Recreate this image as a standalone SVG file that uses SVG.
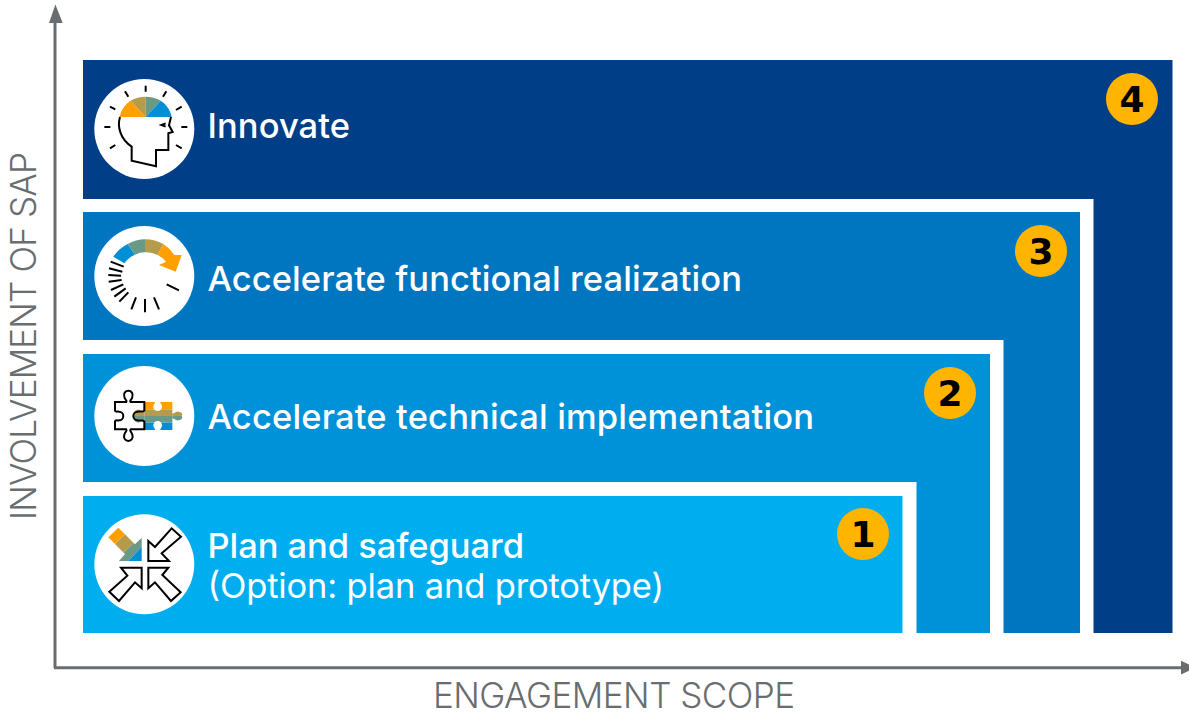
<svg xmlns="http://www.w3.org/2000/svg" width="1189" height="714" viewBox="0 0 1189 714">
<style>
.lbl{font-family:Inter,"Liberation Sans",sans-serif;font-size:34.500px;font-weight:550;fill:#fff}
.sub{font-weight:400}
.ax{font-family:Inter,"Liberation Sans",sans-serif;font-size:35px;font-weight:300;fill:#6a6d70}
.num{font-family:"DejaVu Sans",sans-serif;font-size:36px;font-weight:700;fill:#000;text-anchor:middle}
.badge{fill:#ffb500}
.disc{fill:#fff}
.ln{fill:none;stroke:#000;stroke-width:6}
.wh{fill:#fff;stroke:#000;stroke-width:6;stroke-linejoin:miter}
.o{fill:#ffa000}.y{fill:#b59b4a}.g{fill:#6a9a85}.b{fill:#008fd5}
.axl{stroke:#6a6d70;stroke-width:3;fill:none}
.axh{fill:#6a6d70}
</style>
<g id="connectors">
<path class="axl" d="M55 668V20M54 667.7H1183"/>
<path class="axh" d="M55.4 4.5L62.7 23H49ZM1181 660.7L1196 667.7L1181 674.5Z"/>
</g>
<text class="ax" transform="translate(36 520) rotate(-90)" textLength="368" lengthAdjust="spacing">INVOLVEMENT OF SAP</text>
<text class="ax" x="433" y="708" textLength="362" lengthAdjust="spacing">ENGAGEMENT SCOPE</text>

<g id="node-4">
<rect x="83" y="60" width="1089.500" height="573" fill="#003f88"/>
<path d="M83 199H1093.500V633H83Z" fill="#fff"/>
<circle class="disc" cx="144.300" cy="129" r="50"/>
<g transform="translate(85 70) scale(.33333)">
<path class="o" d="M182 141H104C108 120 120 103 137 92Z"/>
<path class="y" d="M182 141L137 92C150 84 166 80 182 80Z"/>
<path class="g" d="M182 141V80C198 80 214 84 227 92Z"/>
<path class="b" d="M182 141L227 92C244 103 256 120 260 141Z"/>
<path class="ln" d="M105 141C96 170 106 208 140 230V272L213 289V240H250V190L263 186L252 166L258 141"/>
<path class="ln" d="M242 160L229 165L242 170"/>
<path class="ln" d="M182 47V65M120 64L130 80M244 64L234 80M75 110L91 118M290 110L273 120M58 171H76M289 171H307M75 235L91 225M290 235L273 225"/>
</g>
<text class="lbl" x="207.500" y="138" textLength="142.500" lengthAdjust="spacing">Innovate</text>
<circle class="badge" cx="1132" cy="99" r="26"/>
<text class="num" x="1132" y="112">4</text>
</g>

<g id="node-3">
<rect x="83" y="212" width="997" height="421" fill="#0076c0"/>
<path d="M83 340H1003.500V633H83Z" fill="#fff"/>
<circle class="disc" cx="144.300" cy="276" r="50"/>
<g transform="translate(85 220) scale(.33333)">
<path class="b" d="M85 110A110 110 0 0 1 128 72L150 104A72 72 0 0 0 118 130Z"/>
<path class="g" d="M128 72A110 110 0 0 1 180 58V97A72 72 0 0 0 150 104Z"/>
<path class="y" d="M180 58A110 110 0 0 1 235 72L218 105A72 72 0 0 0 180 97Z"/>
<path class="o" d="M235 72A110 110 0 0 1 268 105L290 105L272 155L222 135L243 125A72 72 0 0 0 218 105Z"/>
<path class="ln" d="M245 193L282 211M207 232L222 268M180 237V277M153 232L139 268M130 217L103 245M122 205L88 230M115 193L78 210M110 180L71 185M108 167L70 165M112 155L72 145M116 140L77 125"/>
</g>
<text class="lbl" x="207.500" y="291" textLength="534.500" lengthAdjust="spacing">Accelerate functional realization</text>
<circle class="badge" cx="1041" cy="251" r="26"/>
<text class="num" x="1041" y="264">3</text>
</g>

<g id="node-2">
<rect x="83" y="354" width="907" height="279" fill="#0092d8"/>
<path d="M83 482H916.500V633H83Z" fill="#fff"/>
<circle class="disc" cx="144.300" cy="416" r="50"/>
<g transform="translate(85 360) scale(.33333)">
<rect class="o" x="178" y="126" width="84" height="22"/>
<rect class="y" x="178" y="148" width="84" height="20"/>
<rect class="g" x="178" y="168" width="84" height="20"/>
<rect class="b" x="178" y="188" width="84" height="22"/>
<circle class="disc" cx="218" cy="140" r="13"/>
<rect class="disc" x="210" y="124" width="16" height="14"/>
<circle class="disc" cx="218" cy="196" r="13"/>
<rect class="disc" x="210" y="198" width="16" height="14"/>
<path class="y" d="M262 160H268A11 8 0 0 1 290 168H262Z"/>
<path class="g" d="M262 168H290A11 8 0 0 1 268 176H262Z"/>
<path class="y" d="M178 156H170A11 12 0 0 0 148 168H178Z"/>
<path class="g" d="M178 180H170A11 12 0 0 1 148 168H178Z"/>
<path class="ln" d="M90 126H124C128 121 118 118 118 110A13 13 0 1 1 142 110C142 118 132 121 137 126H178V152C172 158 164 152 158 155A13 13 0 0 0 158 181C164 184 172 178 178 184V208H137C132 213 142 217 142 225A13 13 0 1 1 118 225C118 217 128 213 124 208H90V184C94 178 98 183 102 181A13 13 0 0 0 102 155C98 153 94 158 90 152Z"/>
</g>
<text class="lbl" x="207.500" y="429" textLength="606.500" lengthAdjust="spacing">Accelerate technical implementation</text>
<circle class="badge" cx="950" cy="393" r="26"/>
<text class="num" x="950" y="406">2</text>
</g>

<g id="node-1">
<rect x="83" y="496" width="819.500" height="137" fill="#00aeef"/>
<circle class="disc" cx="144.300" cy="564.300" r="50"/>
<g transform="translate(85 505) scale(.33333)">
<path class="o" d="M70 97L100 68L120 88L90 117Z"/>
<path class="y" d="M90 117L120 88L146 114L116 143Z"/>
<path class="g" d="M116 143L146 114L150 118L170 98V125L130 168H102L120 147Z"/>
<path class="b" d="M170 125V168H130Z"/>
<path class="wh" d="M190 108V168H252L230 145L288 95L260 70L210 126Z"/>
<path class="wh" d="M170 188H108L127 212L73 260L102 288L150 232L170 250Z"/>
<path class="wh" d="M190 188H250L232 210L287 262L258 288L210 232L190 250Z"/>
</g>
<text class="lbl" x="207.500" y="557.500" textLength="316.500" lengthAdjust="spacing">Plan and safeguard</text>
<text class="lbl sub" x="207.500" y="597.500" textLength="456.500" lengthAdjust="spacing">(Option: plan and prototype)</text>
<circle class="badge" cx="863" cy="534" r="26"/>
<text class="num" x="863" y="547">1</text>
</g>
</svg>
